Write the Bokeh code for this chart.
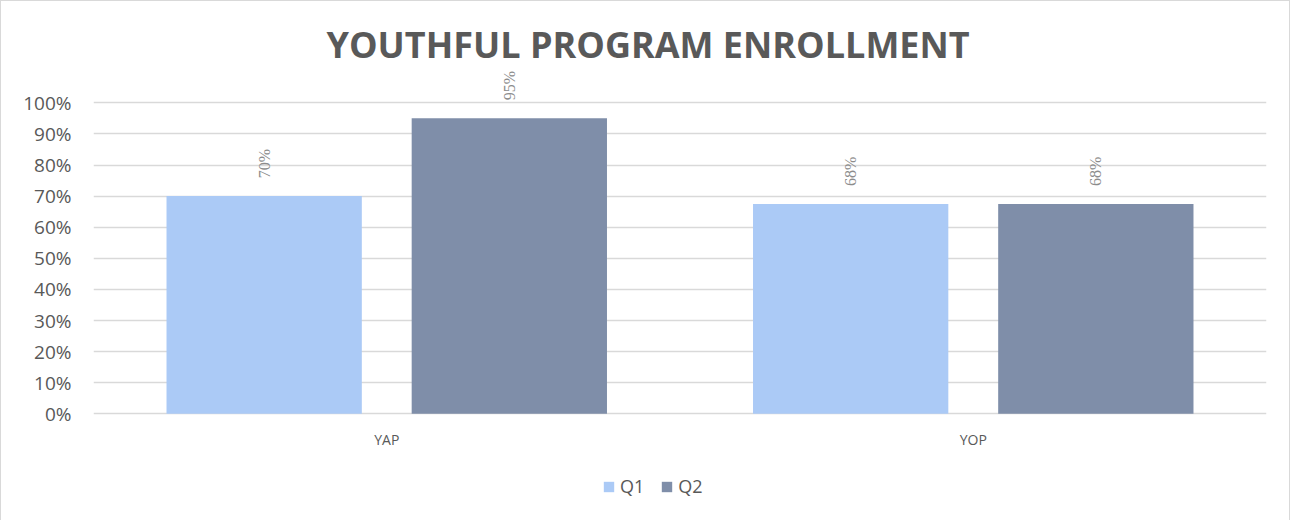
from bokeh.plotting import figure
from bokeh.models import ColumnDataSource, FactorRange, LabelSet, Legend, LegendItem, NumeralTickFormatter, FixedTicker, Range1d
from bokeh.transform import dodge
from bokeh.core.properties import value
from bokeh.embed import file_html
from bokeh.resources import INLINE

categories = ["YAP", "YOP"]
series = ["Q1", "Q2"]
q1_values = [0.70, 0.675]
q2_values = [0.95, 0.675]
q1_labels = ["70%", "68%"]
q2_labels = ["95%", "68%"]
y_ticks = [0.0, 0.1, 0.2, 0.3, 0.4, 0.5, 0.6, 0.7, 0.8, 0.9, 1.0]
colors = ["#abcaf6", "#7f8ea9"]

src = ColumnDataSource(dict(cat=categories, q1=q1_values, q2=q2_values,
                            l1=q1_labels, l2=q2_labels))

p = figure(width=1290, height=520, x_range=FactorRange(*categories, range_padding=0),
           y_range=Range1d(-0.3462, 1.12), output_backend="svg", toolbar_location=None,
           min_border_left=92, min_border_right=25, min_border_top=64, min_border_bottom=0)
p.styles = {"border-top": "1px solid #d9d9d9", "border-left": "1px solid #d9d9d9",
            "border-right": "1px solid #d9d9d9"}

p.title.text = "YOUTHFUL PROGRAM ENROLLMENT"
p.title.align = "left"
p.title.text_font = "Open Sans"
p.title.text_font_style = "bold"
p.title.text_font_size = "36px"
p.title.text_color = "#595959"
p.title.offset = 233
p.title.standoff = -7

p.outline_line_color = None
p.background_fill_color = "white"
p.border_fill_color = "white"

r1 = p.vbar(x=dodge("cat", -0.209, range=p.x_range), top="q1", width=0.333, source=src,
            fill_color=colors[0], line_color=None)
r2 = p.vbar(x=dodge("cat", 0.209, range=p.x_range), top="q2", width=0.333, source=src,
            fill_color=colors[1], line_color=None)

for col, lab, off in (("q1", "l1", -0.209), ("q2", "l2", 0.209)):
    ls = LabelSet(x=dodge("cat", off, range=p.x_range), y=col, text=lab, source=src,
                  angle=1.5708, text_align="left", text_baseline="middle",
                  x_offset=0, y_offset=18, text_font="Open Sans", text_font_size="16px",
                  text_color="#8c8c8c")
    p.add_layout(ls)

# category labels under the 0% line
p.text(x="cat", y=0, text="cat", source=src, y_offset=26, text_align="center",
       text_baseline="middle", text_font=value("Open Sans"), text_font_size="14px",
       text_color="#595959")

p.yaxis.ticker = FixedTicker(ticks=y_ticks)
p.yaxis.formatter = NumeralTickFormatter(format="0%")
p.yaxis.axis_line_color = None
p.yaxis.major_tick_line_color = None
p.yaxis.minor_tick_line_color = None
p.yaxis.major_tick_out = 0
p.yaxis.major_tick_in = 0
p.yaxis.minor_tick_out = 0
p.yaxis.major_label_standoff = 22
p.yaxis.major_label_text_font = "Open Sans"
p.yaxis.major_label_text_font_size = "19px"
p.yaxis.major_label_text_color = "#595959"

p.xaxis.visible = False

p.xgrid.grid_line_color = None
p.ygrid.grid_line_color = "#d9d9d9"
p.ygrid.grid_line_width = 1.5

legend = Legend(items=[LegendItem(label="Q1", renderers=[r1]), LegendItem(label="Q2", renderers=[r2])],
                orientation="horizontal", location=(509, 23),
                glyph_width=13, glyph_height=13, label_height=13, label_standoff=5, spacing=16,
                padding=0, margin=0, border_line_color=None, background_fill_alpha=0,
                label_text_font="Open Sans", label_text_font_size="18px", label_text_color="#595959")
p.add_layout(legend, "center")

open("out.html", "w").write(file_html(p, INLINE))
